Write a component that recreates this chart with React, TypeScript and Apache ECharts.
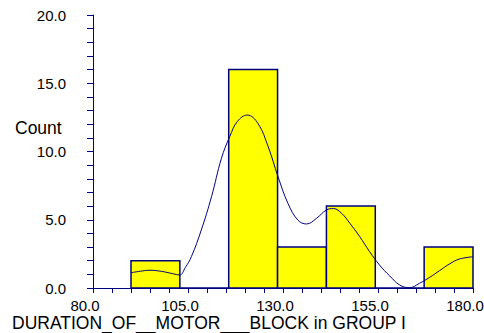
import React, { useEffect, useRef } from "react";
import * as echarts from "echarts";

const binStarts = [90, 102.857, 115.714, 128.571, 141.429, 154.286, 167.143];
const binEnds = [102.857, 115.714, 128.571, 141.429, 154.286, 167.143, 180];
const counts = [2, 0, 16, 3, 6, 0, 3];

const curveX = [90, 93, 95, 98, 101, 102.8, 104.3, 105.9, 108.5, 111.2, 113.8, 116, 118, 120.6, 123.4, 126.1, 128.7, 131.3, 133.9, 136.2, 138.8, 141.4, 143.3, 145.5, 147.6, 150.2, 152.8, 155.4, 158.1, 160.7, 163.3, 165.9, 168.6, 171.2, 173.8, 176.4, 180];
const curveY = [1.12, 1.25, 1.3, 1.22, 1.05, 0.95, 1.5, 2.3, 4.25, 6.7, 9.5, 11.1, 12.2, 12.67, 12.06, 10.35, 8.15, 6.2, 4.98, 4.69, 5.1, 5.71, 5.82, 5.45, 4.74, 3.76, 2.66, 1.68, 0.88, 0.22, 0.02, 0.34, 0.78, 1.27, 1.76, 2.12, 2.29];

const xTickLabels = ["80.0", "105.0", "130.0", "155.0", "180.0"];
const yTickLabels = ["0.0", "5.0", "10.0", "15.0", "20.0"];

const NAVY = "#000080";
const FONT = "Liberation Sans, Arial, sans-serif";

export default function App() {
  const ref = useRef<HTMLDivElement>(null);
  useEffect(() => {
    if (!ref.current) return;
    document.body.style.margin = "0";
    document.body.style.overflow = "hidden";
    const chart = echarts.init(ref.current, undefined, { renderer: "svg" });
    const histData = counts.map((c, i) => [binStarts[i], binEnds[i], c]);
    const curveData = curveX.map((x, i) => [x, curveY[i]]);
    chart.setOption({
      animation: false,
      backgroundColor: "#ffffff",
      grid: { left: 93, right: 11, top: 15, bottom: 45, containLabel: false, outerBoundsMode: "none" },
      xAxis: {
        type: "value",
        min: 80,
        max: 180,
        interval: 25,
        splitLine: { show: false },
        axisLine: { show: true, onZero: false, lineStyle: { color: NAVY, width: 1 } },
        axisTick: { show: true, length: 5, lineStyle: { color: NAVY } },
        minorTick: { show: true, splitNumber: 5, length: 5, lineStyle: { color: NAVY } },
        axisLabel: {
          margin: 10,
          fontSize: 15,
          lineHeight: 15,
          fontFamily: FONT,
          color: "#000",
          padding: [0, 16, 0, 0],
          formatter: (v: number) => {
            const idx = Math.round((v - 80) / 25);
            return xTickLabels[idx] ?? "";
          },
        },
      },
      yAxis: {
        type: "value",
        min: 0,
        max: 20,
        interval: 5,
        splitLine: { show: false },
        axisLine: { show: true, lineStyle: { color: NAVY, width: 1 } },
        axisTick: { show: true, length: 6, lineStyle: { color: NAVY } },
        minorTick: { show: true, splitNumber: 5, length: 6, lineStyle: { color: NAVY } },
        axisLabel: {
          margin: 27,
          fontSize: 15,
          fontFamily: FONT,
          color: "#000",
          formatter: (v: number) => yTickLabels[Math.round(v / 5)] ?? "",
        },
      },
      graphic: [
        {
          type: "text",
          left: 15,
          top: 119,
          style: { text: "Count", fontSize: 17.5, fontFamily: FONT, fill: "#000" },
        },
        {
          type: "text",
          left: 12,
          top: 314,
          style: {
            text: "DURATION_OF__MOTOR___BLOCK in GROUP I",
            fontSize: 17.5,
            fontFamily: FONT,
            fill: "#000",
          },
        },
      ],
      series: [
        {
          type: "custom",
          data: histData,
          encode: { x: [0, 1], y: 2 },
          renderItem: (params: any, api: any) => {
            const x0 = api.value(0);
            const x1 = api.value(1);
            const c = api.value(2);
            const p0 = api.coord([x0, c]);
            const p1 = api.coord([x1, 0]);
            return {
              type: "rect",
              shape: { x: p0[0], y: p0[1], width: p1[0] - p0[0], height: p1[1] - p0[1] },
              style: { fill: "#FFFF00", stroke: NAVY, lineWidth: 1.5 },
            };
          },
          z: 2,
        },
        {
          type: "line",
          data: curveData,
          smooth: 0.4,
          showSymbol: false,
          lineStyle: { color: NAVY, width: 1 },
          z: 3,
        },
      ],
    });
    return () => chart.dispose();
  }, []);
  return <div ref={ref} style={{ width: 484, height: 333, position: "absolute", left: 0, top: 0 }} />;
}
